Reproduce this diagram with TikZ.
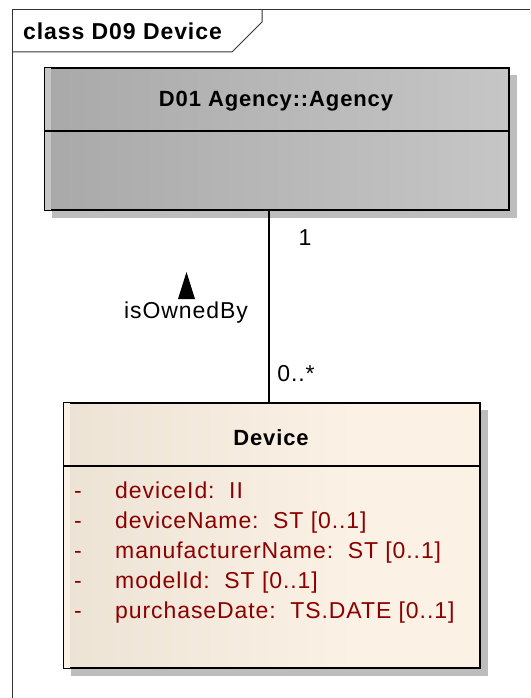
\documentclass[tikz,border=0pt]{standalone}
\usepackage{fontspec}
\setmainfont{Liberation Sans}
\newfontfamily\eafont[LetterSpace=4]{Liberation Sans}
\usetikzlibrary{backgrounds}

\definecolor{attrred}{HTML}{8B0000}
\definecolor{agencydark}{HTML}{A9A9A9}
\definecolor{agencylight}{HTML}{C6C6C6}
\definecolor{devicedark}{HTML}{E3D9CB}
\definecolor{devicelight}{HTML}{FBF1E4}
\definecolor{shadowgray}{HTML}{BDBDBD}

\pgfdeclarehorizontalshading{deviceshade}{100bp}{color(0bp)=(devicedark);
    color(25bp)=(devicedark!60!devicelight); color(60bp)=(devicelight);
    color(100bp)=(devicelight)}

\begin{document}
\begin{tikzpicture}[x=1pt, y=-1pt,
    eatext/.style={font=\eafont\fontsize{23}{27}\selectfont, inner sep=0pt},
    eabold/.style={eatext, font=\eafont\bfseries\fontsize{22}{26}\selectfont},
    classbox/.style={draw, line width=2.4pt, inner sep=0pt, anchor=north west},
    attr/.style={eatext, text=attrred, anchor=base west},
    frame/.style={draw=black!80, line width=1pt}
        ]

    \path [use as bounding box] (0,0) rectangle (530,698);

    % diagram frame and its name tab
    \draw [frame] (12,698) -- (12,10) -- (530,10);
    \draw [frame] (12,52) -- (232,52) -- (262,22) -- (262,10);
    \node [eabold, font=\eafont\bfseries\fontsize{23}{27}\selectfont,
        anchor=west] (diagname) at (23,31) {class D09 Device};

    % D01 Agency::Agency
    \node [classbox, left color=agencydark, right color=agencylight,
        minimum width=464pt, minimum height=142pt] (agency) at (44,67) {};
    \fill [agencylight] ([shift={(1.2,1.2)}]agency.north west)
        rectangle ([shift={(7,-1.2)}]agency.south west);
    \draw [line width=2pt] (agency.west |- 0,131) -- (agency.east |- 0,131);
    \node [eabold] (agencyname) at (276,101) {D01 Agency::Agency};

    % Device
    \node [classbox, shading=deviceshade,
        minimum width=416pt, minimum height=265pt] (device) at (63,402) {};
    \fill [devicelight] ([shift={(1.2,1.2)}]device.north west)
        rectangle ([shift={(7,-1.2)}]device.south west);
    \draw [line width=2pt] (device.west |- 0,466) -- (device.east |- 0,466);
    \node [eabold] (devicename) at (271,438) {Device};

    \foreach \attr [count=\i] in {deviceId:\ \ II, deviceName:\ \ ST [0..1],
        manufacturerName:\ \ ST [0..1], modelId:\ \ ST [0..1],
        purchaseDate:\ \ TS.DATE [0..1]} {
        \node [attr] (dash\i) at (74,468+30*\i) {-};
        \node [attr] (attr\i) at (115,468+30*\i) {\attr};
    }

    % shadows
    \begin{pgfonlayer}{background}
        \fill [shadowgray] ([shift={(8,8)}]agency.north west)
            rectangle ([shift={(7,7)}]agency.south east);
        \fill [shadowgray] ([shift={(8,8)}]device.north west)
            rectangle ([shift={(7,7)}]device.south east);
    \end{pgfonlayer}

    % association isOwnedBy
    \coordinate (assoc) at (269,0);
    \draw [line width=1.8pt] (agency.south -| assoc) -- (device.north -| assoc);
    \node [eatext] (mult1) at (305,238) {1};
    \node [eatext] (multmany) at (296,374) {0..*};
    \node [eatext] (role) at (186,313) {isOwnedBy};
    \fill (178,299) -- (195,299) -- (186.5,272) -- cycle;

\end{tikzpicture}
\end{document}
